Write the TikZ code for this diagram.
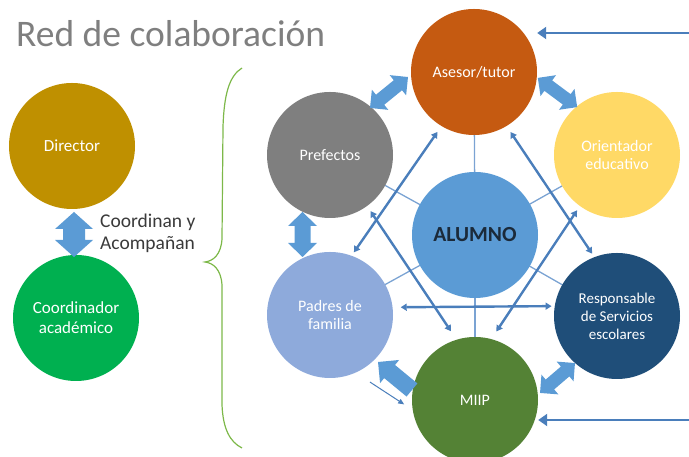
\documentclass[tikz,border=0pt]{standalone}
\usepackage{fontspec}
\setmainfont{Carlito}
\usetikzlibrary{arrows.meta,calc,backgrounds}
\definecolor{cDir}{HTML}{BF9000}
\definecolor{cCoo}{HTML}{00B050}
\definecolor{cAse}{HTML}{C55A11}
\definecolor{cPre}{HTML}{7F7F7F}
\definecolor{cOri}{HTML}{FFD966}
\definecolor{cAlu}{HTML}{5B9BD5}
\definecolor{cPad}{HTML}{8EAADB}
\definecolor{cRes}{HTML}{1F4E79}
\definecolor{cMii}{HTML}{548235}
\definecolor{cBlk}{HTML}{5B9BD5}
\definecolor{cLine}{HTML}{4A7EBB}
\definecolor{cSpoke}{HTML}{7BA3D3}
\definecolor{cBrace}{HTML}{7DB849}
\definecolor{cTitle}{HTML}{7F7F7F}
\definecolor{cDark}{HTML}{3A3A3A}
\definecolor{cNavy}{HTML}{1B2A3A}
% #1 cx, #2 cy, #3 angle, #4 length, #5 head width, #6 shaft width, #7 head length
\newcommand\myDblBlk[7]{%
  \begin{scope}[shift={(#1,#2)}, rotate=#3]
    \fill[cBlk] ({-#4/2},0) -- ({-#4/2+#7},{#5/2}) -- ({-#4/2+#7},{#6/2}) -- ({#4/2-#7},{#6/2})
      -- ({#4/2-#7},{#5/2}) -- ({#4/2},0) -- ({#4/2-#7},{-#5/2}) -- ({#4/2-#7},{-#6/2})
      -- ({-#4/2+#7},{-#6/2}) -- ({-#4/2+#7},{-#5/2}) -- cycle;
  \end{scope}}
\newcommand\mySglBlk[7]{%
  \begin{scope}[shift={(#1,#2)}, rotate=#3]
    \fill[cBlk] ({-#4/2},{#6/2}) -- ({#4/2-#7},{#6/2}) -- ({#4/2-#7},{#5/2}) -- ({#4/2},0)
      -- ({#4/2-#7},{-#5/2}) -- ({#4/2-#7},{-#6/2}) -- ({-#4/2},{-#6/2}) -- cycle;
  \end{scope}}
\begin{document}
\begin{tikzpicture}[x=1pt,y=1pt,
  circ/.style={circle, minimum size=126pt, inner sep=0pt, text=white, align=center,
    font=\fontsize{16}{18.5}\selectfont},
  conn/.style={draw=cLine, line width=2.4pt, {Triangle[length=6pt,width=7pt]}-{Triangle[length=6pt,width=7pt]}},
  longarr/.style={draw=cLine, line width=2pt, -{Triangle[length=9pt,width=12pt]}},
  thinarr/.style={draw=cLine, line width=1pt, -{Triangle[length=6pt,width=5pt]}},
  spoke/.style={draw=cSpoke, line width=1.3pt}
]
\useasboundingbox (0,0) rectangle (689,457);

% title
\node[anchor=base west, text=cTitle, font=\fontsize{37.5}{42}\selectfont, inner sep=0pt] (title) at (16,410) {Red de colaboración};

% left part
\node[circ, fill=cDir, font=\fontsize{17}{20}\selectfont] (dir) at (72,311) {Director};
\node[circ, fill=cCoo, font=\fontsize{17}{20}\selectfont] (coo) at (76,139) {Coordinador\\académico};
\myDblBlk{74}{222.5}{90}{45}{38}{22}{17}
\node[anchor=west, align=left, text=cDark, font=\fontsize{19.5}{22}\selectfont, inner sep=0pt] (cytext) at (100,224) {Coordinan y\\Acompañan};

% brace
\draw[cBrace, line width=1.2pt] (242,389) .. controls (229,381) and (224,362) .. (223,330)
  -- (222,218) .. controls (221,202) and (213,196) .. (205,195)
  .. controls (213,194) and (221,188) .. (222,172)
  -- (222,52) .. controls (223,28) and (230,15) .. (242,9);

% network circles
\node[circ, fill=cAse] (ases) at (474,385) {Asesor/tutor};
\node[circ, fill=cPre] (pref) at (330,302) {Prefectos};
\node[circ, fill=cOri] (orie) at (617,302) {Orientador\\educativo};
\node[circ, fill=cAlu, text=cNavy, font=\fontsize{21.5}{24}\selectfont\bfseries] (alum) at (475,222) {ALUMNO};
\node[circ, fill=cPad] (padr) at (330,142) {Padres de\\familia};
\node[circ, fill=cRes, font=\fontsize{15}{18}\selectfont] (resp) at (617,141) {Responsable\\de Servicios\\escolares};
\node[circ, fill=cMii] (miip) at (475,57) {MIIP};

% spokes behind
\begin{scope}[on background layer]
  \foreach \n in {ases,pref,orie,padr,resp,miip} \draw[spoke] (alum.center) -- (\n.center);
\end{scope}

% block arrows
\myDblBlk{389}{364.5}{39.2}{49}{26}{13}{13}
\myDblBlk{557.5}{364.5}{-36.6}{49}{26}{13}{13}
\myDblBlk{302.5}{222.5}{90}{45}{29}{16}{14}
\myDblBlk{557.5}{79}{40.6}{46}{26}{13}{13}
\mySglBlk{395}{81}{140.5}{44}{30}{17}{15}

% crossing connectors
\draw[conn, shorten <=7pt, shorten >=4pt] (ases.239) -- (padr.70);
\draw[conn, shorten <=6pt, shorten >=10pt] (pref.306) -- (miip.107);
\draw[conn, shorten <=5pt, shorten >=9pt] (orie.234) -- (miip.75.6);
\draw[conn, shorten <=7pt, shorten >=4pt] (ases.301) -- (resp.111);
\draw[conn, shorten <=8pt, shorten >=3pt] (padr.7) -- (resp.171);

% thin arrow
\draw[thinarr, shorten <=17pt, shorten >=10pt] (padr.294.6) -- (miip.189.5);

% long arrows from right edge
\coordinate (r1) at (689,424);
\coordinate (r2) at (689,37);
\draw[longarr] (r1) -- (r1 -| ases.east);
\draw[longarr] (r2) -- (r2 -| miip.east);
\end{tikzpicture}
\end{document}
